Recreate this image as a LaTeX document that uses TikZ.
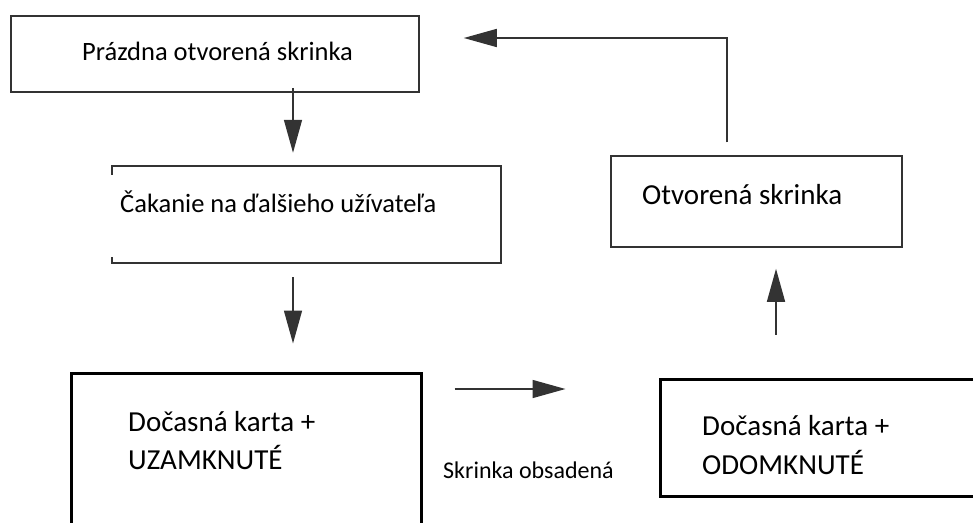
\documentclass[tikz,border=0pt]{standalone}
\usepackage{fontspec}
\setmainfont{Carlito}
\usetikzlibrary{arrows.meta,positioning}

\tikzset{
  >={Triangle[length=33pt,width=18pt]},
  thinbox/.style={draw=black!80,line width=1.5pt,inner sep=0pt},
  thickbox/.style={draw=black,line width=3pt,inner sep=0pt},
  flow/.style={draw=black!80,line width=1.5pt},
  boxtext/.style={inner sep=0pt,anchor=base west,align=left},
}

\begin{document}
\begin{tikzpicture}[x=1pt,y=-1pt]
  \clip (0,0) rectangle (973,522);
  \node (emptyOpen)
        [thinbox,minimum width=408pt,minimum height=76pt]
        at (215,54) {};
  \node (waitUser)
        [inner sep=0pt,minimum width=389pt,minimum height=97pt]
        at (306.5,214.5) {};
  \node (tempLocked)
        [thickbox,minimum width=350pt,minimum height=167pt]
        at (246,456.5) {};
  \node (tempUnlocked)
        [thickbox,minimum width=330pt,minimum height=117pt]
        at (825,437.5) {};
  \node (openBox)
        [thinbox,minimum width=291pt,minimum height=91pt]
        at (756.5,201.5) {};

  % texts
  \node (emptyOpenText) [boxtext,font=\fontsize{26.5}{32}\selectfont]
        at (82,60) {Prázdna otvorená skrinka};
  \node (waitUserText) [boxtext,font=\fontsize{26.5}{32}\selectfont]
        at (120,212) {Čakanie na ďalšieho užívateľa};
  \node (tempLockedText) [boxtext,font=\fontsize{29}{38}\selectfont]
        at (128,469) {Dočasná karta +\\UZAMKNUTÉ};
  \node (tempUnlockedText) [boxtext,font=\fontsize{29}{39}\selectfont]
        at (702,474) {Dočasná karta +\\ODOMKNUTÉ};
  \node (openBoxText) [boxtext,font=\fontsize{29}{35}\selectfont]
        at (642,204) {Otvorená skrinka};
  \node (occupied) [boxtext,font=\fontsize{24}{29}\selectfont]
        at (443,478) {Skrinka obsadená};

  % box with open left side
  \draw[flow] ([yshift=-9pt]waitUser.north west) -- (waitUser.north west)
    -- (waitUser.north east) -- (waitUser.south east)
    -- (waitUser.south west) -- ([yshift=6pt]waitUser.south west);

  \draw[flow,->] ([xshift=78pt,yshift=5pt]emptyOpen.south)
    -- ([xshift=-13.5pt,yshift=13pt]waitUser.north);
  \draw[flow,->] ([xshift=-13.5pt,yshift=-14pt]waitUser.south)
    -- ([xshift=47pt,yshift=28pt]tempLocked.north);
  \draw[flow,->] ([xshift=32pt,yshift=67.5pt]tempLocked.east)
    -- ([xshift=-93pt,yshift=48.5pt]tempUnlocked.west);
  \draw[flow,->] ([xshift=-49pt,yshift=43pt]tempUnlocked.north)
    -- ([xshift=19.5pt,yshift=-21pt]openBox.south);
  \draw[flow,->] ([xshift=-29.5pt,yshift=13pt]openBox.north)
    |- ([xshift=44pt,yshift=16pt]emptyOpen.east);
\end{tikzpicture}
\end{document}
